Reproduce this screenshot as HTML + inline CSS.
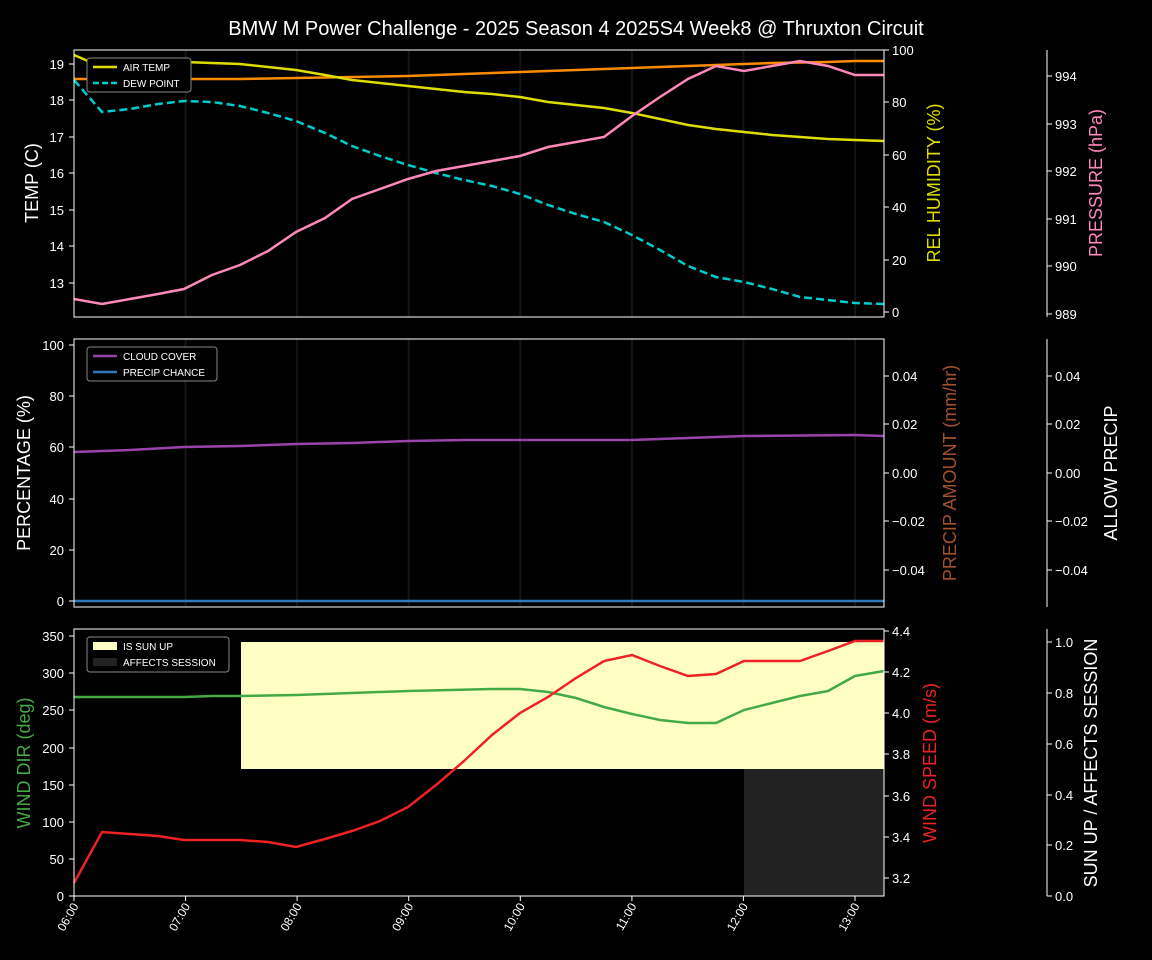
<!DOCTYPE html>
<html><head><meta charset="utf-8"><style>body{margin:0;background:#000}svg{display:block}</style></head><body>
<svg width="1152" height="960" xmlns="http://www.w3.org/2000/svg" font-family="Liberation Sans, DejaVu Sans, sans-serif" fill="#fff">
<rect width="1152" height="960" fill="#000"/>
<text x="576" y="35" font-size="20" text-anchor="middle">BMW M Power Challenge - 2025 Season 4 2025S4 Week8 @ Thruxton Circuit</text>
<g stroke="#141414" stroke-width="2">
<line x1="185.6" y1="50" x2="185.6" y2="317"/><line x1="297.1" y1="50" x2="297.1" y2="317"/><line x1="408.7" y1="50" x2="408.7" y2="317"/><line x1="520.3" y1="50" x2="520.3" y2="317"/><line x1="631.9" y1="50" x2="631.9" y2="317"/><line x1="743.4" y1="50" x2="743.4" y2="317"/><line x1="855" y1="50" x2="855" y2="317"/>
<line x1="185.6" y1="339" x2="185.6" y2="607"/><line x1="297.1" y1="339" x2="297.1" y2="607"/><line x1="408.7" y1="339" x2="408.7" y2="607"/><line x1="520.3" y1="339" x2="520.3" y2="607"/><line x1="631.9" y1="339" x2="631.9" y2="607"/><line x1="743.4" y1="339" x2="743.4" y2="607"/><line x1="855" y1="339" x2="855" y2="607"/>
</g>
<!-- panel 1 -->
<g fill="none" stroke-width="2.5">
<polyline stroke="#ff8c00" points="74,79 240,79 296,78 352,77 408,76 464,74 520,72 576,70 604,69 632,68 688,66 744,64 772,63 828,62 855,61 884,61"/>
<polyline stroke="#dddd00" points="74,55 102,67 130,66 158,62 184,62 212,63 240,64 268,67 296,70 325,75 352,80 380,83 408,86 436,89 464,92 492,94 520,97 548,102 576,105 604,108 632,113 660,119 688,125 716,129 744,132 772,135 800,137 828,139 855,140 884,141"/>
<polyline stroke="#00cccc" stroke-dasharray="8,4" points="74,80 102,112 130,109 158,104 184,101 212,102 240,106 268,113 296,121 325,133 352,146 380,156 408,165 436,173 464,180 492,186 520,194 548,205 576,214 604,222 632,235 660,250 688,266 716,277 744,282 772,289 800,297 828,300 855,303 884,304"/>
<polyline stroke="#ff88bb" points="74,299 102,304 130,299 158,294 184,289 212,275 240,265 268,251 296,232 325,218 352,199 380,189 408,179 436,171 464,166 492,161 520,156 548,147 576,142 604,137 632,116 660,97 688,79 716,66 744,71 772,66 800,61 828,66 855,75 884,75"/>
</g>
<rect x="74" y="50" width="810" height="267" fill="none" stroke="#fff"/>
<g font-size="13" text-anchor="end">
<text x="64" y="69">19</text><text x="64" y="105">18</text><text x="64" y="142">17</text><text x="64" y="178">16</text><text x="64" y="215">15</text><text x="64" y="251">14</text><text x="64" y="288">13</text>
</g>
<g stroke="#fff"><line x1="69" y1="64" x2="74" y2="64"/><line x1="69" y1="100" x2="74" y2="100"/><line x1="69" y1="137" x2="74" y2="137"/><line x1="69" y1="173" x2="74" y2="173"/><line x1="69" y1="210" x2="74" y2="210"/><line x1="69" y1="246" x2="74" y2="246"/><line x1="69" y1="283" x2="74" y2="283"/>
<line x1="884" y1="50" x2="889" y2="50"/><line x1="884" y1="102" x2="889" y2="102"/><line x1="884" y1="155" x2="889" y2="155"/><line x1="884" y1="207" x2="889" y2="207"/><line x1="884" y1="260" x2="889" y2="260"/><line x1="884" y1="312" x2="889" y2="312"/>
<line x1="1047" y1="50" x2="1047" y2="317"/>
<line x1="1047" y1="76" x2="1052" y2="76"/><line x1="1047" y1="124" x2="1052" y2="124"/><line x1="1047" y1="171" x2="1052" y2="171"/><line x1="1047" y1="219" x2="1052" y2="219"/><line x1="1047" y1="266" x2="1052" y2="266"/><line x1="1047" y1="314" x2="1052" y2="314"/></g>
<g font-size="13"><text x="892" y="55">100</text><text x="892" y="107">80</text><text x="892" y="160">60</text><text x="892" y="212">40</text><text x="892" y="265">20</text><text x="892" y="317">0</text>
<text x="1055" y="81">994</text><text x="1055" y="129">993</text><text x="1055" y="176">992</text><text x="1055" y="224">991</text><text x="1055" y="271">990</text><text x="1055" y="319">989</text></g>
<text transform="translate(38,183) rotate(-90)" font-size="18" text-anchor="middle">TEMP (C)</text>
<text transform="translate(940,183) rotate(-90)" font-size="18" text-anchor="middle" fill="#dddd00">REL HUMIDITY (%)</text>
<text transform="translate(1102,183) rotate(-90)" font-size="18" text-anchor="middle" fill="#ff88bb">PRESSURE (hPa)</text>
<rect x="87" y="58" width="104" height="34" rx="3" fill="#000" stroke="#888"/>
<line x1="93" y1="67" x2="117" y2="67" stroke="#dddd00" stroke-width="2.5"/><text x="123" y="71" font-size="10">AIR TEMP</text>
<line x1="93" y1="83" x2="117" y2="83" stroke="#00cccc" stroke-width="2.5" stroke-dasharray="6,3"/><text x="123" y="87" font-size="10">DEW POINT</text>
<!-- panel 2 -->
<polyline fill="none" stroke="#9944aa" stroke-width="2.5" points="74,452 130,450 184,447 240,446 296,444 352,443 408,441 464,440 632,440 688,438 744,436 855,435 884,436"/>
<line x1="74" y1="601" x2="884" y2="601" stroke="#3377bb" stroke-width="2.5"/>
<rect x="74" y="339" width="810" height="268" fill="none" stroke="#fff"/>
<g stroke="#fff"><line x1="69" y1="345" x2="74" y2="345"/><line x1="69" y1="396" x2="74" y2="396"/><line x1="69" y1="447" x2="74" y2="447"/><line x1="69" y1="499" x2="74" y2="499"/><line x1="69" y1="550" x2="74" y2="550"/><line x1="69" y1="601" x2="74" y2="601"/>
<line x1="884" y1="376" x2="889" y2="376"/><line x1="884" y1="424" x2="889" y2="424"/><line x1="884" y1="473" x2="889" y2="473"/><line x1="884" y1="521" x2="889" y2="521"/><line x1="884" y1="570" x2="889" y2="570"/>
<line x1="1047" y1="339" x2="1047" y2="607"/>
<line x1="1047" y1="376" x2="1052" y2="376"/><line x1="1047" y1="424" x2="1052" y2="424"/><line x1="1047" y1="473" x2="1052" y2="473"/><line x1="1047" y1="521" x2="1052" y2="521"/><line x1="1047" y1="570" x2="1052" y2="570"/></g>
<g font-size="13" text-anchor="end"><text x="64" y="350">100</text><text x="64" y="401">80</text><text x="64" y="452">60</text><text x="64" y="504">40</text><text x="64" y="555">20</text><text x="64" y="606">0</text></g>
<g font-size="13"><text x="892" y="381">0.04</text><text x="892" y="429">0.02</text><text x="892" y="478">0.00</text><text x="892" y="526">−0.02</text><text x="892" y="575">−0.04</text>
<text x="1055" y="381">0.04</text><text x="1055" y="429">0.02</text><text x="1055" y="478">0.00</text><text x="1055" y="526">−0.02</text><text x="1055" y="575">−0.04</text></g>
<text transform="translate(30,473) rotate(-90)" font-size="18" text-anchor="middle">PERCENTAGE (%)</text>
<text transform="translate(956,473) rotate(-90)" font-size="18" text-anchor="middle" fill="#a0522d">PRECIP AMOUNT (mm/hr)</text>
<text transform="translate(1117,473) rotate(-90)" font-size="18" text-anchor="middle">ALLOW PRECIP</text>
<rect x="87" y="347" width="130" height="34" rx="3" fill="#000" stroke="#888"/>
<line x1="93" y1="356" x2="117" y2="356" stroke="#9944aa" stroke-width="2.5"/><text x="123" y="360" font-size="10">CLOUD COVER</text>
<line x1="93" y1="372" x2="117" y2="372" stroke="#3377bb" stroke-width="2.5"/><text x="123" y="376" font-size="10">PRECIP CHANCE</text>
<!-- panel 3 -->
<rect x="241" y="642" width="643" height="127" fill="#ffffc4"/>
<rect x="744" y="769" width="140" height="127" fill="#222"/>
<g fill="none" stroke-width="2.5">
<polyline stroke="#44aa44" points="74,697 184,697 212,696 240,696 296,695 352,693 408,691 492,689 520,689 548,692 576,698 604,707 632,714 660,720 688,723 716,723 744,710 772,703 800,696 828,691 855,676 884,671"/>
<polyline stroke="#ee2222" points="74,883 102,832 130,834 158,836 184,840 240,840 268,842 296,847 325,839 352,831 380,821 408,807 436,785 464,761 492,735 520,713 548,697 576,678 604,661 632,655 660,666 688,676 716,674 744,661 800,661 828,651 855,641 884,641"/>
</g>
<rect x="74" y="629" width="810" height="267" fill="none" stroke="#fff"/>
<g stroke="#fff"><line x1="69" y1="636" x2="74" y2="636"/><line x1="69" y1="673" x2="74" y2="673"/><line x1="69" y1="710" x2="74" y2="710"/><line x1="69" y1="748" x2="74" y2="748"/><line x1="69" y1="785" x2="74" y2="785"/><line x1="69" y1="822" x2="74" y2="822"/><line x1="69" y1="859" x2="74" y2="859"/><line x1="69" y1="896" x2="74" y2="896"/>
<line x1="884" y1="631" x2="889" y2="631"/><line x1="884" y1="672" x2="889" y2="672"/><line x1="884" y1="713" x2="889" y2="713"/><line x1="884" y1="754" x2="889" y2="754"/><line x1="884" y1="796" x2="889" y2="796"/><line x1="884" y1="837" x2="889" y2="837"/><line x1="884" y1="878" x2="889" y2="878"/>
<line x1="1047" y1="629" x2="1047" y2="896"/>
<line x1="1047" y1="642" x2="1052" y2="642"/><line x1="1047" y1="693" x2="1052" y2="693"/><line x1="1047" y1="744" x2="1052" y2="744"/><line x1="1047" y1="795" x2="1052" y2="795"/><line x1="1047" y1="845" x2="1052" y2="845"/><line x1="1047" y1="896" x2="1052" y2="896"/></g>
<g font-size="13" text-anchor="end"><text x="64" y="641">350</text><text x="64" y="678">300</text><text x="64" y="715">250</text><text x="64" y="753">200</text><text x="64" y="790">150</text><text x="64" y="827">100</text><text x="64" y="864">50</text><text x="64" y="901">0</text></g>
<g font-size="13"><text x="892" y="636">4.4</text><text x="892" y="677">4.2</text><text x="892" y="718">4.0</text><text x="892" y="759">3.8</text><text x="892" y="801">3.6</text><text x="892" y="842">3.4</text><text x="892" y="883">3.2</text>
<text x="1055" y="647">1.0</text><text x="1055" y="698">0.8</text><text x="1055" y="749">0.6</text><text x="1055" y="800">0.4</text><text x="1055" y="850">0.2</text><text x="1055" y="901">0.0</text></g>
<text transform="translate(30,763) rotate(-90)" font-size="18" text-anchor="middle" fill="#44aa44">WIND DIR (deg)</text>
<text transform="translate(936,763) rotate(-90)" font-size="18" text-anchor="middle" fill="#ee2222">WIND SPEED (m/s)</text>
<text transform="translate(1097,763) rotate(-90)" font-size="18" text-anchor="middle">SUN UP / AFFECTS SESSION</text>
<rect x="87" y="637" width="142" height="35" rx="3" fill="#000" stroke="#888"/>
<rect x="93" y="642" width="24" height="8" fill="#ffffc4"/><text x="123" y="650" font-size="10">IS SUN UP</text>
<rect x="93" y="658" width="24" height="8" fill="#222"/><text x="123" y="666" font-size="10">AFFECTS SESSION</text>
<!-- x ticks -->
<g stroke="#fff"><line x1="74" y1="896" x2="74" y2="901"/><line x1="185.6" y1="896" x2="185.6" y2="901"/><line x1="297.1" y1="896" x2="297.1" y2="901"/><line x1="408.7" y1="896" x2="408.7" y2="901"/><line x1="520.3" y1="896" x2="520.3" y2="901"/><line x1="631.9" y1="896" x2="631.9" y2="901"/><line x1="743.4" y1="896" x2="743.4" y2="901"/><line x1="855" y1="896" x2="855" y2="901"/></g>
<g font-size="12" text-anchor="end">
<text transform="translate(79,906) rotate(-60)">06:00</text><text transform="translate(190.6,906) rotate(-60)">07:00</text><text transform="translate(302.1,906) rotate(-60)">08:00</text><text transform="translate(413.7,906) rotate(-60)">09:00</text><text transform="translate(525.3,906) rotate(-60)">10:00</text><text transform="translate(636.9,906) rotate(-60)">11:00</text><text transform="translate(748.4,906) rotate(-60)">12:00</text><text transform="translate(860,906) rotate(-60)">13:00</text>
</g>
</svg>
</body></html>
